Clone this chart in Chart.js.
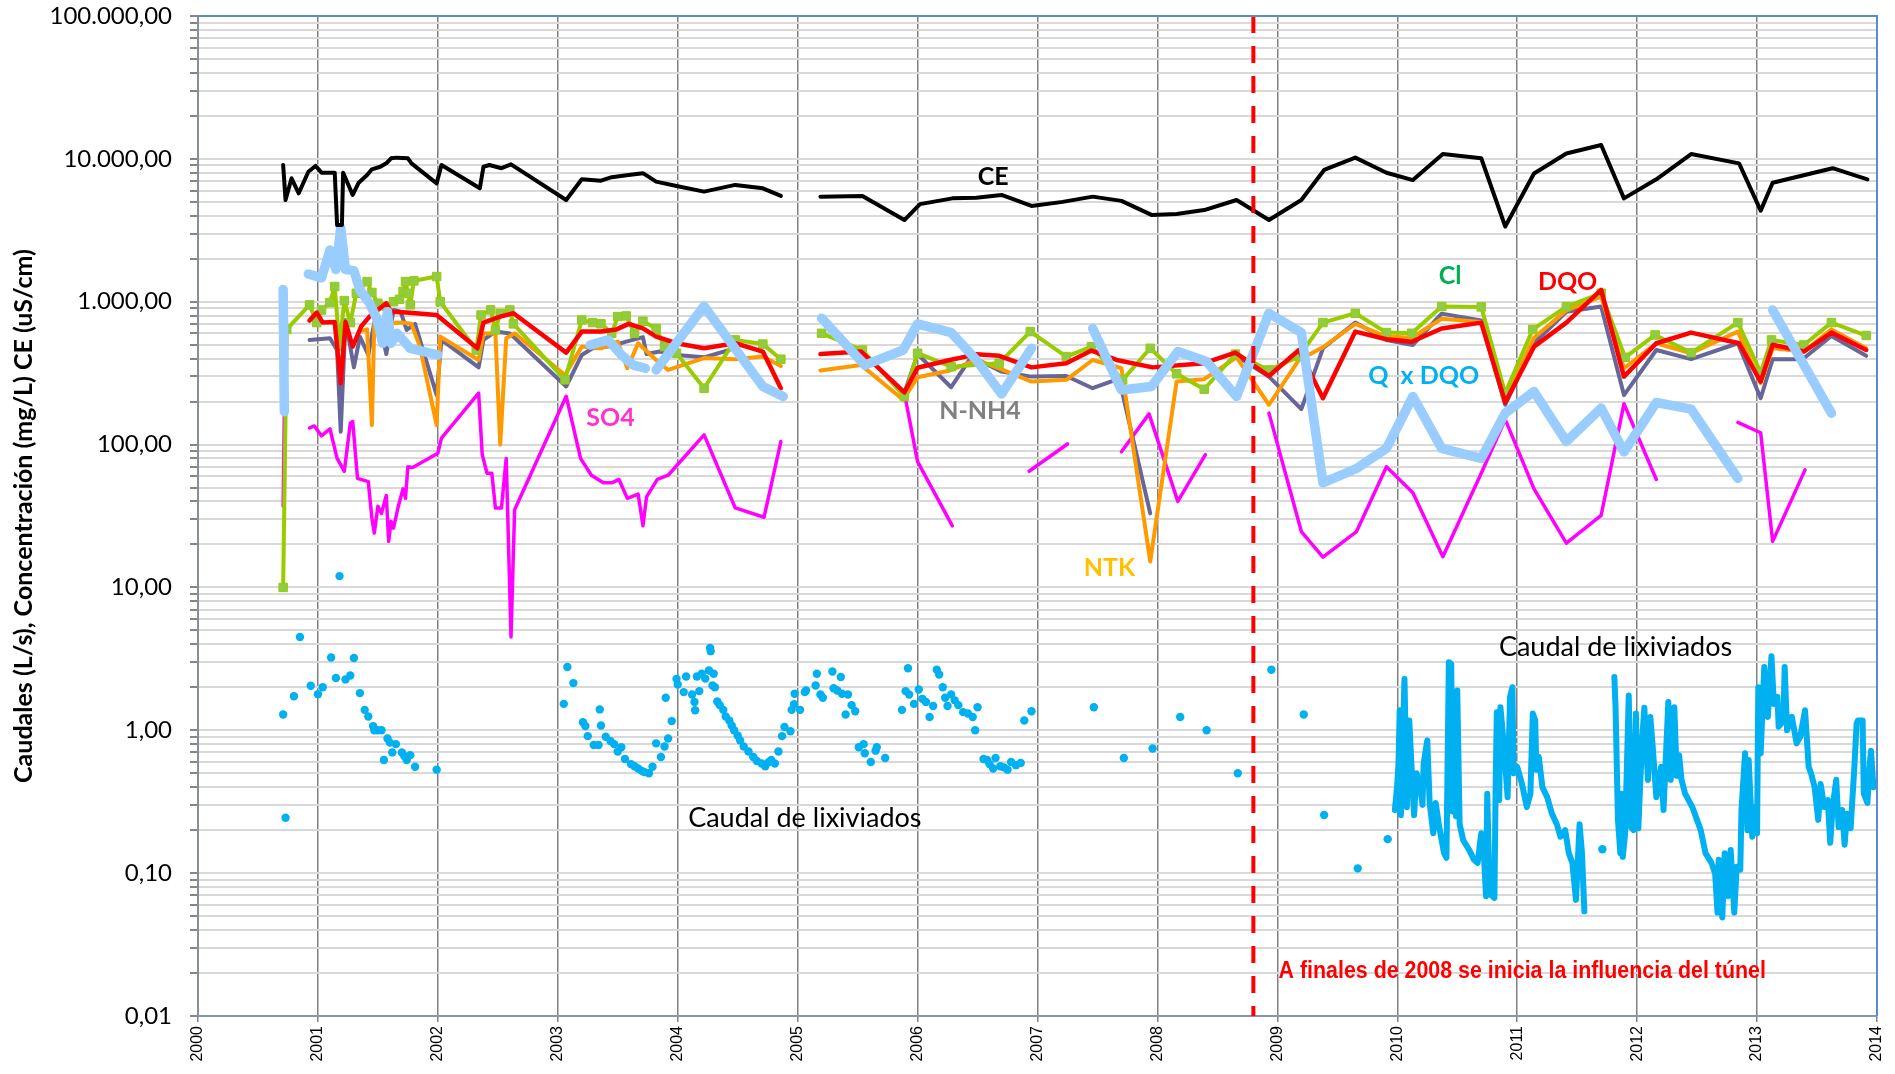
<!DOCTYPE html>
<html lang="es">
<head>
<meta charset="utf-8">
<title>Caudales y concentraciones de lixiviados 2000-2014</title>
<script src="https://cdn.jsdelivr.net/npm/chart.js@4.4.1/dist/chart.umd.min.js"></script>
<style>
  html, body { margin: 0; padding: 0; background: #ffffff; overflow: hidden; }
  #wrap { width: 1895px; height: 1074px; position: relative; }
</style>
</head>
<body>
<div id="wrap"><canvas id="lixiviados-chart"></canvas></div>
<script>
/* global Chart */

// Series: [decimal year, value]. A null value
// breaks the line where the original has no samples.

const X_TICK_LABELS = ["2000", "2001", "2002", "2003", "2004", "2005", "2006", "2007",
  "2008", "2009", "2010", "2011", "2012", "2013", "2014"];
const Y_DECADES = [0.01, 0.1, 1, 10, 100, 1000, 10000, 100000];
const Y_DECADE_LABELS = ["0,01", "0,10", "1,00", "10,00", "100,00", "1.000,00", "10.000,00", "100.000,00"];

const TUNNEL_YEAR = 2008.8;

const CE = [
  [2000.71, 9060], [2000.73, 5150], [2000.78, 7310], [2000.84, 5740], [2000.92, 8130], [2000.98, 8920],
  [2001.03, 8000], [2001.14, 8000], [2001.16, 3440], [2001.2, 3440], [2001.21, 8000], [2001.29, 5590],
  [2001.34, 6810], [2001.41, 7710], [2001.45, 8450], [2001.52, 8800], [2001.57, 9300], [2001.61, 10090],
  [2001.66, 10200], [2001.75, 10100], [2001.78, 9300], [2001.99, 6740], [2002.03, 9060], [2002.35, 6220],
  [2002.38, 8800], [2002.43, 9060], [2002.53, 8600], [2002.61, 9150], [2003.07, 5150], [2003.2, 7190],
  [2003.36, 7030], [2003.45, 7440], [2003.59, 7710], [2003.71, 7940], [2003.82, 6930], [2003.99, 6460],
  [2004.22, 5900], [2004.48, 6570], [2004.71, 6220], [2004.86, 5500], [2005.0, null],
  [2005.19, 5440], [2005.54, 5500], [2005.89, 3730], [2006.02, 4820], [2006.29, 5290], [2006.49, 5350],
  [2006.7, 5590], [2006.95, 4680], [2007.21, 5000], [2007.46, 5440], [2007.7, 5080], [2007.95, 4050],
  [2008.16, 4110], [2008.39, 4380], [2008.66, 5150], [2008.93, 3730], [2009.2, 5150], [2009.39, 8360],
  [2009.65, 10200], [2009.91, 8000], [2010.13, 7100], [2010.38, 10800], [2010.7, 10100], [2010.9, 3360],
  [2011.14, 7900], [2011.41, 10900], [2011.7, 12500], [2011.89, 5290], [2012.16, 7190], [2012.45, 10800],
  [2012.85, 9300], [2013.03, 4340], [2013.13, 6810], [2013.63, 8600], [2013.92, 7190],
];

const CL = [
  [2000.71, 10], [2000.74, 640], [2000.93, 950], [2000.99, 714], [2001.03, 875], [2001.1, 986],
  [2001.14, 1277], [2001.18, 485], [2001.22, 1018], [2001.27, 714], [2001.32, 1146], [2001.41, 1384],
  [2001.45, 1160], [2001.5, 975], [2001.57, 930], [2001.63, 1000], [2001.68, 1040], [2001.71, 1180],
  [2001.73, 1384], [2001.75, 1146], [2001.77, 950], [2001.8, 1400], [2001.99, 1500], [2002.02, 1000],
  [2002.32, 459], [2002.36, 807], [2002.44, 876], [2002.48, 634], [2002.52, 830], [2002.6, 875],
  [2002.63, 700], [2003.06, 284], [2003.2, 745], [2003.29, 714], [2003.36, 700], [2003.45, 601],
  [2003.5, 787], [2003.57, 795], [2003.64, 601], [2003.71, 730], [2003.82, 650], [2003.89, 485],
  [2003.99, 436], [2004.22, 248], [2004.48, 540], [2004.71, 505], [2004.86, 396], [2005.0, null],
  [2005.2, 601], [2005.54, 459], [2005.89, 217], [2006.0, 436], [2006.28, 351], [2006.68, 371],
  [2006.94, 618], [2007.24, 413], [2007.45, 485], [2007.71, 284], [2007.94, 472], [2008.16, 313],
  [2008.39, 244], [2008.65, 430], [2008.93, 333], [2009.18, 413], [2009.38, 714], [2009.65, 830],
  [2009.91, 608], [2010.12, 601], [2010.37, 925], [2010.7, 920], [2010.9, 229], [2011.13, 640],
  [2011.41, 925], [2011.7, 1146], [2011.9, 408], [2012.15, 585], [2012.45, 440], [2012.84, 714],
  [2013.03, 319], [2013.12, 540], [2013.39, 498], [2013.62, 714], [2013.91, 580],
];

const DQO = [
  [2000.93, 738], [2000.99, 840], [2001.04, 714], [2001.14, 720], [2001.19, 269], [2001.23, 720],
  [2001.29, 485], [2001.36, 670], [2001.43, 787], [2001.57, 975], [2001.61, 850], [2001.74, 840],
  [2001.99, 807], [2002.33, 472], [2002.38, 714], [2002.52, 787], [2002.63, 830], [2003.07, 440],
  [2003.2, 618], [2003.36, 618], [2003.49, 640], [2003.59, 700], [2003.71, 650], [2003.82, 570],
  [2003.99, 512], [2004.22, 472], [2004.48, 512], [2004.71, 448], [2004.86, 248], [2005.0, null],
  [2005.19, 430], [2005.53, 448], [2005.89, 232], [2006.0, 345], [2006.27, 391], [2006.49, 428],
  [2006.68, 418], [2006.95, 347], [2007.24, 371], [2007.45, 455], [2007.66, 391], [2007.96, 347],
  [2008.39, 371], [2008.65, 440], [2008.93, 302], [2009.18, 459], [2009.38, 211], [2009.65, 618],
  [2009.91, 546], [2010.12, 525], [2010.37, 650], [2010.7, 714], [2010.9, 197], [2011.14, 485],
  [2011.41, 714], [2011.7, 1210], [2011.89, 299], [2012.16, 512], [2012.45, 608], [2012.85, 512],
  [2013.03, 276], [2013.13, 500], [2013.39, 448], [2013.62, 608], [2013.91, 459],
];

const N_NH4 = [
  [2000.93, 540], [2001.1, 555], [2001.16, 459], [2001.19, 123], [2001.23, 745], [2001.3, 347],
  [2001.35, 570], [2001.42, 424], [2001.47, 714], [2001.54, 570], [2001.57, 430], [2001.63, 875],
  [2001.69, 850], [2001.74, 634], [2001.81, 700], [2001.99, 222], [2002.03, 540], [2002.34, 347],
  [2002.38, 540], [2002.48, 618], [2002.6, 600], [2003.07, 255], [2003.2, 424], [2003.29, 472],
  [2003.45, 490], [2003.57, 525], [2003.71, 565], [2003.74, 430], [2003.85, 448], [2003.99, 424],
  [2004.22, 408], [2004.43, 459], [2004.45, null], [2005.89, 229], [2006.0, 430], [2006.28, 252],
  [2006.45, 413], [2006.7, 324], [2006.95, 299], [2007.24, 302], [2007.46, 248], [2007.68, 290],
  [2007.94, 33], [2008.2, null], [2008.65, 420], [2008.93, 299], [2009.2, 177], [2009.38, 472],
  [2009.65, 714], [2009.91, 540], [2010.13, 498], [2010.37, 825], [2010.7, 738], [2010.9, 190],
  [2011.14, 512], [2011.41, 850], [2011.7, 925], [2011.89, 222], [2012.16, 459], [2012.45, 396],
  [2012.84, 512], [2013.03, 211], [2013.13, 396], [2013.38, 396], [2013.62, 575], [2013.91, 418],
];

const NTK = [
  [2001.35, 620], [2001.41, 640], [2001.45, 137], [2001.47, 700], [2001.71, 714], [2001.78, 700],
  [2001.85, 485], [2001.99, 137], [2002.02, 570], [2002.34, 391], [2002.38, 600], [2002.48, 601],
  [2002.52, 100], [2002.57, 555], [2002.64, 601], [2003.06, 307], [2003.2, 485], [2003.36, 472],
  [2003.5, 525], [2003.58, 342], [2003.67, 512], [2003.82, 391], [2003.92, 333], [2004.22, 403],
  [2004.48, 396], [2004.71, 413], [2004.86, 355], [2005.0, null], [2005.19, 330], [2005.53, 360],
  [2005.88, 206], [2006.0, 296], [2006.27, 330], [2006.49, 391], [2006.68, 342], [2006.95, 276],
  [2007.24, 284], [2007.46, 391], [2007.7, 342], [2007.94, 15.2], [2008.16, 276], [2008.39, 287],
  [2008.66, 408], [2008.93, 190], [2009.18, 391], [2009.38, 480], [2009.65, 700], [2009.91, 570],
  [2010.12, 560], [2010.37, 760], [2010.7, 720], [2010.9, 205], [2011.14, 560], [2011.41, 870],
  [2011.7, 1086], [2011.89, 342], [2012.16, 512], [2012.45, 436], [2012.84, 618], [2013.03, 269],
  [2013.13, 472], [2013.39, 448], [2013.62, 640], [2013.91, 472],
];

const SO4 = [
  [2000.71, 37], [2000.72, 170], [2000.8, null],
  [2000.93, 131], [2000.97, 135], [2001.03, 115], [2001.1, 129], [2001.16, 80], [2001.22, 65],
  [2001.27, 141], [2001.29, 145], [2001.33, 58], [2001.42, 55], [2001.45, 30.5], [2001.47, 24],
  [2001.5, 37], [2001.53, 33], [2001.57, 44], [2001.59, 21], [2001.61, 29], [2001.63, 26],
  [2001.67, 37], [2001.71, 49], [2001.73, 42], [2001.75, 70], [2001.79, 69], [2002.0, 87],
  [2002.03, 111], [2002.34, 229], [2002.37, 85], [2002.41, 63], [2002.45, 63], [2002.48, 36],
  [2002.53, 36], [2002.57, 80], [2002.61, 4.5], [2002.64, 35], [2003.07, 218], [2003.19, 80],
  [2003.28, 61], [2003.38, 54], [2003.45, 54], [2003.51, 57], [2003.58, 42], [2003.67, 45],
  [2003.71, 27], [2003.74, 43], [2003.83, 57], [2003.92, 61], [2004.22, 117], [2004.48, 36],
  [2004.72, 31], [2004.86, 105], [2005.0, null],
  [2005.89, 229], [2006.0, 76], [2006.29, 27], [2006.5, null],
  [2006.93, 65], [2007.25, 101], [2007.4, null],
  [2007.7, 89], [2007.93, 164], [2008.17, 40], [2008.4, 85], [2008.6, null],
  [2008.93, 166], [2009.2, 24.6], [2009.38, 16.3], [2009.66, 24.6], [2009.91, 70], [2010.13, 46],
  [2010.38, 16.4], [2010.7, 63], [2010.9, 150], [2011.14, 49], [2011.41, 20.4], [2011.7, 32],
  [2011.89, 193], [2012.16, 57], [2012.5, null],
  [2012.84, 143], [2013.03, 121], [2013.13, 21], [2013.4, 66.5],
];

const Q_X_DQO = [
  [2000.71, 1220], [2000.72, 170], [2000.8, null],
  [2000.92, 1563], [2001.03, 1470], [2001.1, 2300], [2001.15, 1680], [2001.19, 3270], [2001.23, 1680],
  [2001.3, 1650], [2001.35, 1210], [2001.43, 975], [2001.49, 765], [2001.54, 512], [2001.58, 850],
  [2001.61, 512], [2001.66, 601], [2001.77, 472], [2002.0, 424], [2002.5, null],
  [2003.27, 498], [2003.42, 540], [2003.53, 424], [2003.63, 360], [2003.73, 342], [2003.78, null],
  [2003.82, 333], [2004.22, 930], [2004.71, 255], [2004.88, 217], [2005.0, null],
  [2005.2, 765], [2005.56, 360], [2005.88, 459], [2006.0, 700], [2006.28, 608], [2006.49, 391],
  [2006.7, 226], [2006.95, 472], [2007.2, null],
  [2007.46, 650], [2007.7, 241], [2007.95, 255], [2008.17, 448], [2008.41, 381], [2008.66, 217],
  [2008.93, 830], [2009.2, 608], [2009.38, 54], [2009.66, 68], [2009.91, 94], [2010.13, 217],
  [2010.37, 94], [2010.7, 80], [2010.9, 166], [2011.14, 235], [2011.41, 105], [2011.7, 180],
  [2011.89, 89], [2012.16, 197], [2012.45, 177], [2012.84, 58], [2013.0, null],
  [2013.13, 875], [2013.62, 166],
];

// Caudal de lixiviados: isolated samples before 2010, continuous record after.
const CAUDAL_SAMPLES = [
  [2000.71, 1.29], [2000.73, 0.244], [2000.8, 1.73], [2000.85, 4.5], [2000.94, 2.05], [2001.0, 1.79],
  [2001.04, 2.0], [2001.11, 3.23], [2001.15, 2.32], [2001.18, 12.0], [2001.23, 2.27], [2001.27, 2.42],
  [2001.3, 3.21], [2001.35, 1.82], [2001.39, 1.39], [2001.42, 1.25], [2001.46, 1.07], [2001.47, 1.0],
  [2001.5, 1.0], [2001.53, 1.0], [2001.55, 0.62], [2001.58, 0.875], [2001.6, 0.82], [2001.62, 0.7],
  [2001.65, 0.8], [2001.7, 0.7], [2001.72, 0.66], [2001.74, 0.62], [2001.77, 0.67], [2001.81, 0.555],
  [2001.99, 0.53],
  [2003.05, 1.53], [2003.08, 2.77], [2003.13, 2.14], [2003.21, 1.14], [2003.23, 1.07], [2003.25, 0.91],
  [2003.3, 0.79], [2003.34, 0.79], [2003.35, 1.4], [2003.36, 1.08], [2003.4, 0.9], [2003.44, 0.84],
  [2003.47, 0.8], [2003.5, 0.71], [2003.53, 0.76], [2003.56, 0.63], [2003.61, 0.58], [2003.64, 0.56],
  [2003.67, 0.54], [2003.7, 0.52], [2003.72, 0.51], [2003.76, 0.5], [2003.79, 0.555], [2003.82, 0.81],
  [2003.86, 0.65], [2003.89, 0.77], [2003.9, 1.69], [2003.92, 0.875], [2003.95, 1.16], [2003.99, 2.29],
  [2004.0, 2.09], [2004.05, 1.85], [2004.07, 2.38], [2004.12, 1.78], [2004.14, 1.58], [2004.145, 1.38],
  [2004.16, 2.38], [2004.18, 1.88], [2004.2, 2.49], [2004.23, 2.3], [2004.26, 2.62], [2004.27, 3.77],
  [2004.275, 3.58], [2004.29, 2.06], [2004.3, 2.49], [2004.31, 2.0], [2004.33, 1.59], [2004.35, 1.5],
  [2004.38, 1.39], [2004.4, 1.25], [2004.43, 1.17], [2004.45, 1.08], [2004.47, 1.0], [2004.5, 0.92],
  [2004.52, 0.85], [2004.55, 0.77], [2004.59, 0.71], [2004.63, 0.65], [2004.66, 0.61], [2004.7, 0.585],
  [2004.73, 0.56], [2004.76, 0.6], [2004.78, 0.62], [2004.81, 0.585], [2004.84, 0.71], [2004.87, 0.91],
  [2004.89, 1.055], [2004.94, 0.985], [2004.95, 1.39], [2004.97, 1.52], [2004.975, 1.8],
  [2005.02, 1.39], [2005.06, 1.85], [2005.07, 1.9], [2005.15, 2.06], [2005.16, 2.49], [2005.19, 1.78],
  [2005.21, 1.69], [2005.29, 2.58], [2005.3, 1.97], [2005.33, 1.9], [2005.36, 2.36], [2005.37, 1.8],
  [2005.4, 1.29], [2005.42, 1.78], [2005.45, 1.5], [2005.48, 1.36], [2005.51, 0.76], [2005.55, 0.8],
  [2005.56, 0.69], [2005.61, 0.6], [2005.65, 0.72], [2005.66, 0.76], [2005.73, 0.64],
  [2005.87, 1.39], [2005.9, 1.88], [2005.92, 2.72], [2005.93, 1.78], [2005.97, 1.53], [2006.01, 1.93],
  [2006.04, 1.66], [2006.07, 1.58], [2006.1, 1.24], [2006.13, 1.48], [2006.16, 2.65], [2006.18, 2.46],
  [2006.21, 2.0], [2006.23, 1.69], [2006.25, 1.48], [2006.28, 1.78], [2006.31, 1.62], [2006.34, 1.5],
  [2006.38, 1.34], [2006.42, 1.31], [2006.46, 1.24], [2006.48, 1.0], [2006.5, 1.45], [2006.55, 0.63],
  [2006.58, 0.62], [2006.6, 0.58], [2006.63, 0.54], [2006.65, 0.64], [2006.69, 0.56], [2006.72, 0.55],
  [2006.75, 0.53], [2006.78, 0.6], [2006.82, 0.57], [2006.86, 0.59], [2006.89, 1.17], [2006.95, 1.36],
  [2007.47, 1.45], [2007.72, 0.64], [2007.96, 0.745], [2008.19, 1.24], [2008.41, 1.0], [2008.67, 0.5],
  [2008.95, 2.65], [2009.22, 1.29], [2009.39, 0.255], [2009.67, 0.108], [2009.92, 0.173], [2011.71, 0.147],
];

const CAUDAL_CONTINUO = [
  [2009.98, 0.277], [2010.0, 0.42], [2010.01, 0.585], [2010.02, 1.38], [2010.03, 0.255], [2010.05, 1.17],
  [2010.06, 2.29], [2010.08, 0.29], [2010.1, 1.17], [2010.12, 0.53], [2010.14, 0.255], [2010.16, 0.5],
  [2010.19, 0.42], [2010.21, 0.3], [2010.22, 0.585], [2010.25, 0.85], [2010.27, 0.31], [2010.3, 0.19],
  [2010.32, 0.31], [2010.35, 0.21], [2010.37, 0.17], [2010.39, 0.138], [2010.41, 0.128], [2010.42, 0.65],
  [2010.43, 3.0], [2010.45, 2.9], [2010.46, 0.27], [2010.47, 0.47], [2010.49, 0.25], [2010.5, 1.9],
  [2010.52, 0.22], [2010.55, 0.17], [2010.6, 0.145], [2010.64, 0.124], [2010.67, 0.118], [2010.7, 0.19],
  [2010.72, 0.145], [2010.74, 0.069], [2010.75, 0.36], [2010.77, 0.072], [2010.81, 0.067], [2010.82, 0.4],
  [2010.83, 1.34], [2010.85, 0.325], [2010.86, 1.45], [2010.89, 0.76], [2010.92, 0.34], [2010.94, 1.71],
  [2010.96, 2.0], [2010.97, 0.5], [2011.0, 0.555], [2011.04, 0.42], [2011.08, 0.29], [2011.11, 0.36],
  [2011.13, 1.31], [2011.15, 1.17], [2011.16, 0.53], [2011.18, 0.65], [2011.21, 0.4], [2011.25, 0.34],
  [2011.29, 0.26], [2011.33, 0.22], [2011.36, 0.18], [2011.4, 0.2], [2011.43, 0.138], [2011.46, 0.118],
  [2011.49, 0.065], [2011.52, 0.22], [2011.54, 0.138], [2011.56, 0.054], [2011.6, null],
  [2011.81, 2.36], [2011.82, 1.45], [2011.84, 0.236], [2011.86, 0.138], [2011.87, 0.36], [2011.88, 0.13],
  [2011.9, 0.19], [2011.93, 1.75], [2011.95, 0.21], [2011.97, 0.2], [2011.99, 1.31], [2012.01, 0.206],
  [2012.04, 0.81], [2012.06, 1.44], [2012.09, 0.45], [2012.11, 1.24], [2012.13, 0.765], [2012.16, 0.34],
  [2012.2, 0.555], [2012.22, 0.277], [2012.26, 1.58], [2012.28, 0.45], [2012.31, 1.45], [2012.33, 0.48],
  [2012.35, 0.67], [2012.37, 0.45], [2012.4, 0.36], [2012.46, 0.29], [2012.53, 0.2], [2012.57, 0.138],
  [2012.62, 0.118], [2012.65, 0.1], [2012.67, 0.053], [2012.68, 0.124], [2012.71, 0.049], [2012.73, 0.138],
  [2012.76, 0.069], [2012.78, 0.145], [2012.81, 0.053], [2012.83, 0.111], [2012.86, 0.106], [2012.87, 0.277],
  [2012.9, 0.69], [2012.92, 0.2], [2012.93, 0.62], [2012.96, 0.18], [2012.98, 0.29], [2013.0, 0.19],
  [2013.01, 2.0], [2013.03, 0.69], [2013.06, 2.77], [2013.09, 1.24], [2013.12, 3.3], [2013.14, 1.53],
  [2013.17, 1.71], [2013.18, 1.06], [2013.22, 1.17], [2013.23, 2.77], [2013.25, 1.0], [2013.29, 1.24],
  [2013.33, 0.81], [2013.36, 0.9], [2013.4, 1.38], [2013.43, 0.555], [2013.45, 0.5], [2013.48, 0.4],
  [2013.51, 0.236], [2013.53, 0.42], [2013.56, 0.29], [2013.59, 0.325], [2013.61, 0.163], [2013.63, 0.29],
  [2013.66, 0.45], [2013.68, 0.21], [2013.71, 0.277], [2013.73, 0.158], [2013.75, 0.26], [2013.78, 0.206],
  [2013.81, 0.53], [2013.83, 1.11], [2013.84, 1.17], [2013.88, 1.17], [2013.89, 0.36], [2013.92, 0.31],
  [2013.94, 0.585], [2013.95, 0.72], [2013.97, 0.4],
];

// In-plot labels, anchored in data coordinates.
const LABEL_FONT = "bold 25px Lato";
const NOTES = [
  { text: "CE", year: 2006.63, value: 7510, color: "#000000", font: LABEL_FONT },
  { text: "Cl", year: 2010.44, value: 1523, color: "#00B050", font: LABEL_FONT },
  { text: "DQO", year: 2011.42, value: 1380, color: "#FF0000", font: LABEL_FONT },
  { text: "Q  x DQO", year: 2010.22, value: 303, color: "#00B0F0", font: LABEL_FONT },
  { text: "SO4", year: 2003.44, value: 153, color: "#FF33CC", font: LABEL_FONT },
  { text: "N-NH4", year: 2006.52, value: 172, color: "#808080", font: LABEL_FONT },
  { text: "NTK", year: 2007.6, value: 13.7, color: "#FFC000", font: LABEL_FONT },
  { text: "Caudal de lixiviados", year: 2005.06, value: 0.244, color: "#000000", font: "27px Lato" },
  { text: "Caudal de lixiviados", year: 2011.82, value: 3.8, color: "#000000", font: "27px Lato" },
  {
    text: "A finales de 2008 se inicia la influencia del túnel",
    year: 2009.01,
    value: 0.0206,
    color: "#FF0000",
    font: 'bold 23px "Liberation Sans", Arial, sans-serif',
    align: "left",
    squeeze: 0.93,
  },
];

function toPoints(pairs) {
  return pairs.map(([x, y]) => ({ x, y }));
}

function lineSeries(label, pairs, color, width) {
  return {
    label,
    data: toPoints(pairs),
    borderColor: color,
    backgroundColor: color,
    borderWidth: width,
    pointRadius: 0,
    borderJoinStyle: "round",
    borderCapStyle: "round",
    spanGaps: false,
    tension: 0,
  };
}

const frameAndNotes = {
  id: "frameAndNotes",
  afterDraw(chart) {
    const { ctx, chartArea, scales } = chart;
    ctx.save();
    ctx.strokeStyle = "#5B8BC9";
    ctx.lineWidth = 2;
    ctx.beginPath();
    ctx.moveTo(chartArea.left, chartArea.top);
    ctx.lineTo(chartArea.right, chartArea.top);
    ctx.lineTo(chartArea.right, chartArea.bottom);
    ctx.stroke();

    ctx.textBaseline = "middle";
    NOTES.forEach((note) => {
      const x = scales.x.getPixelForValue(note.year);
      const y = scales.y.getPixelForValue(note.value);
      const squeeze = note.squeeze || 1;
      ctx.save();
      ctx.font = note.font;
      ctx.fillStyle = note.color;
      ctx.textAlign = note.align || "center";
      // narrow-font look: compress horizontally around the anchor
      ctx.translate(x, y);
      ctx.scale(squeeze, 1);
      ctx.fillText(note.text, 0, 0);
      ctx.restore();
    });
    ctx.restore();
  },
};

function isDecade(value) {
  return Y_DECADES.findIndex((d) => Math.abs(value / d - 1) < 1e-6);
}

const canvas = document.getElementById("lixiviados-chart");

Chart.defaults.font.family = "Lato";
Chart.defaults.color = "#000000";

const datasets = [
  {
    ...lineSeries("Túnel", [[TUNNEL_YEAR, 100000], [TUNNEL_YEAR, 0.01]], "#FF0000", 4),
    borderDash: [17, 13],
    borderCapStyle: "butt",
  },
  lineSeries("CE", CE, "#000000", 4),
  lineSeries("Q x DQO", Q_X_DQO, "#99CCFF", 9.5),
  lineSeries("DQO", DQO, "#FF0000", 4.5),
  {
    ...lineSeries("Cl", CL, "#99CC00", 4),
    pointRadius: 6,
    pointStyle: "rect",
    pointBackgroundColor: "#8FCB45",
    pointBorderColor: "#99CC00",
    pointBorderWidth: 1,
  },
  lineSeries("NTK", NTK, "#FF9900", 4),
  lineSeries("N-NH4", N_NH4, "#666699", 4),
  lineSeries("SO4", SO4, "#FF00FF", 3.5),
  lineSeries("Caudal de lixiviados", CAUDAL_CONTINUO, "#00B0F0", 6),
  {
    label: "Caudal de lixiviados (puntual)",
    data: toPoints(CAUDAL_SAMPLES),
    showLine: false,
    pointRadius: 4.2,
    pointBorderWidth: 0,
    pointBackgroundColor: "#00B0F0",
    borderColor: "#00B0F0",
  },
];

new Chart(canvas, {
  type: "line",
  data: { datasets },
  options: {
    responsive: true,
    maintainAspectRatio: false,
    animation: false,
    devicePixelRatio: 1,
    events: [],
    layout: { padding: { top: 16, right: 18, left: 0, bottom: 0 } },
    scales: {
      x: {
        type: "linear",
        min: 2000,
        max: 2014,
        afterFit: (scale) => {
          scale.height = 58;
          scale.paddingLeft = 0;
          scale.paddingRight = 0;
        },
        grid: {
          color: "#808080",
          lineWidth: 1.5,
          tickColor: "#808080",
          tickLength: 6,
        },
        border: { color: "#8497B0", width: 2 },
        ticks: {
          stepSize: 1,
          minRotation: 90,
          maxRotation: 90,
          padding: 4,
          autoSkip: false,
          color: "#000000",
          font: { family: '"Liberation Sans", Arial, sans-serif', size: 16 },
          callback: (value) => X_TICK_LABELS[Math.round(value) - 2000] ?? "",
        },
      },
      y: {
        type: "logarithmic",
        min: 0.01,
        max: 100000,
        afterFit: (scale) => {
          scale.width = 198;
          scale.paddingTop = 0;
          scale.paddingBottom = 0;
        },
        afterBuildTicks: (scale) => {
          const ticks = [];
          Y_DECADES.forEach((decade, i) => {
            if (i === Y_DECADES.length - 1) {
              ticks.push({ value: decade });
              return;
            }
            for (let m = 1; m <= 9; m++) {
              ticks.push({ value: Number((m * decade).toPrecision(6)) });
            }
          });
          scale.ticks = ticks;
        },
        grid: {
          color: "#D9D9D9",
          lineWidth: 2,
          tickColor: "#868686",
          tickLength: 8,
        },
        border: { color: "#868E9C", width: 2 },
        title: {
          display: true,
          text: "Caudales (L/s), Concentración (mg/L) CE (uS/cm)",
          color: "#000000",
          font: { family: "Lato", size: 25, weight: "bold" },
          padding: { top: 9, bottom: 0 },
        },
        ticks: {
          autoSkip: false,
          padding: 18,
          color: "#000000",
          font: { family: "Lato", size: 24 },
          callback: (value) => {
            const idx = isDecade(value);
            return idx >= 0 ? Y_DECADE_LABELS[idx] : "";
          },
        },
      },
    },
    plugins: {
      legend: { display: false },
      tooltip: { enabled: false },
    },
  },
  plugins: [frameAndNotes],
});
</script>
</body>
</html>
